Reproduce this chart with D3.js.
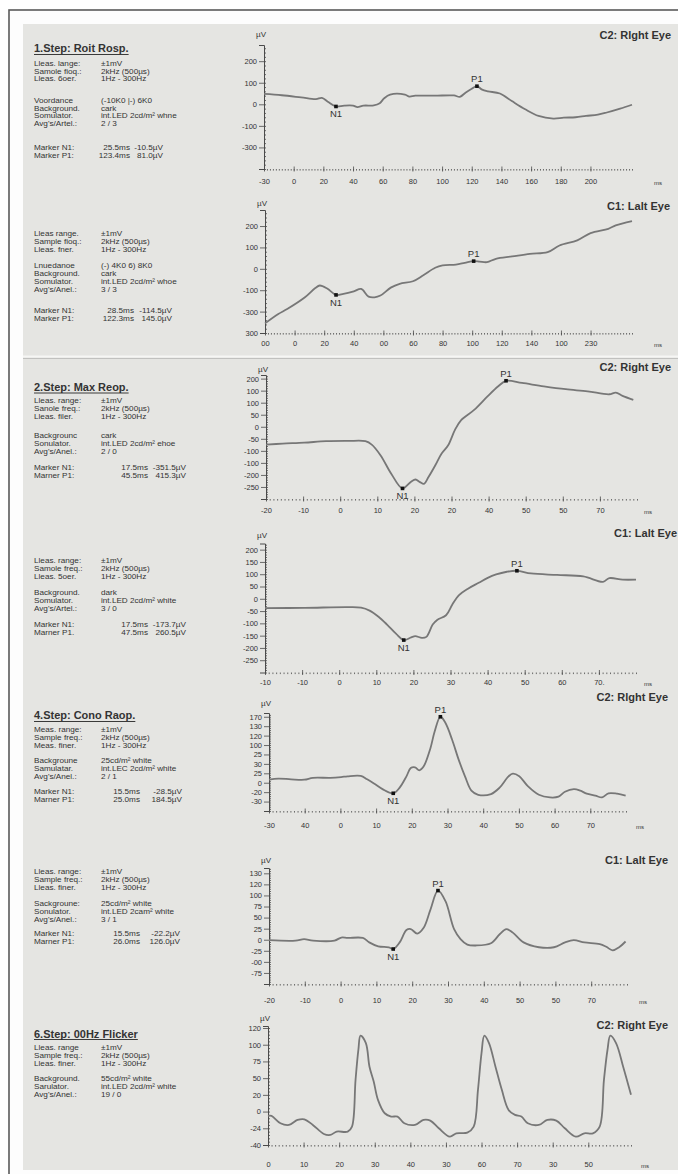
<!DOCTYPE html>
<html>
<head>
<meta charset="utf-8">
<script src="https://cdn.jsdelivr.net/npm/d3@7"></script>
<style>
  body { margin: 0; background: #fff; }
  svg { display: block; }
  text { font-family: "Liberation Sans", Arial, sans-serif; fill: #333; }
</style>
</head>
<body>
<script>
// ---------- data ----------

// 1. Step, rod response, right eye
var rodRightTime = [-20,-8,5,15,19,23,28.5,34,40,43,47,54,58,61,65,75,78,82,95,108,112,116,120,123.5,127,131,139,147,156,165,175,182,190,197,205,211,220,228];
var rodRightUv   = [48,42,32,24,30,12,-10,-6,-6,-13,-6,-5,5,28,45,45,36,40,40,41,35,55,72,84,68,60,50,15,-23,-54,-66,-62,-60,-54,-48,-38,-20,-2];
// 1. Step, rod response, left eye
var rodLeftTime = [-20,-11,-5,7,14,17,22,28,33,40,45,50,54,58,65,71,80,87,95,100,109,115,121,125,130,136,147,159,171,179,191,200,212,217,228];
var rodLeftUv   = [-255,-211,-188,-133,-90,-78,-92,-122,-117,-105,-94,-130,-133,-125,-88,-70,-58,-30,5,16,20,28,36,34,31,47,58,70,78,109,133,167,187,203,223];
// 2. Step, max response, right eye
var maxRightTime = [-20,-15.5,-9.7,-3.8,2.1,6.8,8.5,10.9,13.8,16.8,19.1,20.3,21.5,22.6,23.8,25.6,27.3,29.1,30.9,32.6,36.1,39.7,42.6,44.7,49,54.9,60.8,66.7,72.5,74.3,76.1,79];
var maxRightUv   = [-74,-70,-66,-60,-59,-60,-74,-119,-196,-256,-228,-219,-230,-237,-209,-161,-112,-77,-14,28,70,126,168,191,182,168,156,147,135,142,128,112];
// 2. Step, max response, left eye
var maxLeftTime = [-20,-9.4,2.3,5.9,8.2,10.6,12.9,15.3,17.4,19.4,20.5,22.3,23.5,25.2,26.4,28.8,30.5,32.3,34.6,37.6,39.9,42.3,45.2,47.9,51.7,58.7,65.8,71.1,72.8,76.4,80];
var maxLeftUv   = [-38,-37,-34,-36,-48,-73,-105,-142,-168,-157,-152,-159,-155,-105,-86,-67,-23,15,40,65,84,99,110,114,103,97,91,69,84,78,78];
// 4. Step, cone response, right eye
var coneRightTime = [-20,-17.4,-13.8,-10.1,-7.7,-2.8,0.2,2,5.7,7.5,9.4,11.8,14.8,16.6,18.5,19.7,20.9,22.1,23.3,25.2,26.4,28,29.4,31.3,33.1,34.9,36.7,38.6,42.2,44.6,47.1,48.3,50.1,52.5,55.6,58.7,61.1,62.9,65.4,67.2,69,71.4,73.3,75.1,77.5,79.9];
var coneRightUv   = [8,11,9,8,13,13,15,17,18,9,-2,-17,-28,-13,17,39,41,33,43,91,136,175,159,114,62,17,-21,-32,-30,-13,17,24,17,-9,-32,-39,-37,-24,-17,-21,-29,-34,-39,-28,-29,-34];
// 4. Step, cone response, left eye
var coneLeftTime = [-20,-12.6,-10.2,-7.7,-1.7,0.2,2,6.2,8,10.5,13.5,14.7,16.5,18.4,19.6,21.4,23.2,25.1,27.2,29.3,31.7,33.5,35.4,37.8,42,44.5,46.3,48.1,51.1,55.4,59.6,62.7,65.1,68.1,72.4,74.2,76,77.8,79.6];
var coneLeftUv   = [-1,-2,1.5,-2,-2,5,4,4,-6,-15,-17,-21,-6,22,24,14,27,68,111,87,24,1.5,-11,-13,-8,13,24,16,-6,-17,-17,-6,-1,-6,-10,-16,-24,-17,-4];
// 6. Step, 30Hz flicker, right eye
var flickerTime = [0,1,3.5,5.9,8.3,10.2,12.6,15.7,17.5,19.3,22.4,23.6,24.6,25.4,26,27.5,28.5,29.7,30.9,32.8,34.6,36.4,38.3,41.3,43.7,45.6,48,51.1,52.9,56,57.8,59,60,60.8,62.1,63.9,65.7,67.6,69.4,71.2,73,76.1,78.5,81,83.4,86.5,88.9,91.3,93.2,94.4,95.4,96.2,97.8,99.9,102];
var flickerUv   = [-6.5,-6.5,-17.5,-20,-12.5,-11.5,-20,-33.5,-35,-30,-30,-22.5,47.5,92.5,113.5,102.5,67.5,45,17.5,-2.5,-7.5,-7.5,-17.5,-20,-12.5,-13.5,-25,-37.5,-32.5,-31.5,-22.5,32.5,87.5,113.5,102.5,67.5,32.5,2.5,-5,-7.5,-17.5,-20,-12.5,-13.5,-25,-37.5,-32.5,-32.5,-22.5,47.5,92.5,113.5,102.5,65,25];

// marker points [name, ms, uV] where the N1 / P1 dots sit on the trace
var rodRightMarkers  = [["N1", 28.5, -10], ["P1", 123.5, 84]];
var rodLeftMarkers   = [["N1", 28, -122], ["P1", 121, 36]];
var maxRightMarkers  = [["N1", 16.8, -256], ["P1", 44.7, 191]];
var maxLeftMarkers   = [["N1", 17.4, -168], ["P1", 47.9, 114]];
var coneRightMarkers = [["N1", 14.8, -28], ["P1", 28, 175]];
var coneLeftMarkers  = [["N1", 14.7, -21], ["P1", 27.2, 111]];

// tick values and the labels printed at them
var rodTicksX = [-20,0,20,40,60,80,100,120,140,160,180,200];
var rodRightLabelsX = ["-30","0","20","40","60","80","100","120","140","160","180","200"];
var rodLeftLabelsX  = ["00","0","20","40","00","60","80","100","120","140","100","230"];
var rodRightTicksY = [200,100,0,-100,-200];
var rodRightLabelsY = ["200","100","0","-100","-300"];
var rodLeftTicksY = [200,100,0,-100,-200,-300];
var rodLeftLabelsY = ["200","100","0","-100","-300","300"];

var shortTicksX = [-20,-10,0,10,20,30,40,50,60,70];
var maxRightLabelsX  = ["-20","-10","0","10","20","20","40","50","50","70"];
var maxLeftLabelsX   = ["-10","-10","0","10","20","30","40","50","60","70."];
var coneRightLabelsX = ["-30","40","0","10","20","30","40","50","60","70"];
var coneLeftLabelsX  = ["-20","-10","0","10","20","30","40","50","50","70"];
var maxTicksY = [200,150,100,50,0,-50,-100,-150,-200,-250];
var maxRightLabelsY = ["200","100","100","50","0","-50","-100","-100","-200","-250"];
var maxLeftLabelsY  = ["200","150","100","50","0","-50","-100","-150","-200","-250"];
var coneRightTicksY = [175,150,125,100,75,50,25,0,-25,-50];
var coneRightLabelsY = ["170","130","120","100","25","30","25","0","-20","-30"];
var coneLeftTicksY = [150,125,100,75,50,25,0,-25,-50,-75];
var coneLeftLabelsY = ["130","120","100","75","50","25","0","-25","-00","-75"];

var flickerTicksX = [0,10,20,30,40,50,60,70,80,90];
var flickerLabelsX = ["0","10","20","30","40","30","60","70","30","50"];
var flickerTicksY = [125,100,75,50,25,0,-25,-50];
var flickerLabelsY = ["120","100","75","50","20","0","-24","-40"];

// recording settings printed at the left
var rodRightInfo = [["Lleas. lange:","±1mV"],["Samole fioq.:","2kHz (500µs)"],["Lleas. 6oer.","1Hz - 300Hz"],
  ["Voordance","(-10K0 |-) 6K0"],["Background.","cark"],["Somulator.","int.LED 2cd/m² whne"],["Avg's/Artel.:","2 / 3"],
  ["Marker N1:","25.5ms","-10.5µV"],["Marker P1:","123.4ms","81.0µV"]];
var rodLeftInfo = [["Lleas range.","±1mV"],["Sample fioq.:","2kHz (500µs)"],["Lleas. fner.","1Hz - 300Hz"],
  ["Lnuedanoe","(-) 4K0 6) 8K0"],["Background.","cark"],["Somulator.","int.LED 2cd/m² whoe"],["Avg's/Anel.:","3 / 3"],
  ["Marker N1:","28.5ms","-114.5µV"],["Marker P1:","122.3ms","145.0µV"]];
var maxRightInfo = [["Lleas. range:","±1mV"],["Sanole freq.:","2kHz (500µs)"],["Lleas. filer.","1Hz - 300Hz"],
  ["Backgrounc","cark"],["Sonulator.","int.LED 2cd/m² ehoe"],["Avg's/Anel.:","2 / 0"],
  ["Marker N1:","17.5ms","-351.5µV"],["Marner P1:","45.5ms","415.3µV"]];
var maxLeftInfo = [["Lleas. range:","±1mV"],["Samole freq.:","2kHz (500µs)"],["Lleas. 5oer.","1Hz - 300Hz"],
  ["Background.","dark"],["Somulator.","int.LED 2cd/m² white"],["Avg's/Artel.:","3 / 0"],
  ["Marker N1:","17.5ms","-173.7µV"],["Marner P1.","47.5ms","260.5µV"]];
var coneRightInfo = [["Meas. range:","±1mV"],["Sample freq.:","2kHz (500µs)"],["Meas. finer.","1Hz - 300Hz"],
  ["Backgroune","25cd/m² white"],["Samulatar.","int.LEC 2cd/m² white"],["Avg's/Anel.:","2 / 1"],
  ["Marker N1:","15.5ms","-28.5µV"],["Marner P1:","25.0ms","184.5µV"]];
var coneLeftInfo = [["Lleas. range:","±1mV"],["Sample freq.:","2kHz (500µs)"],["Lleas. finer.","1Hz - 300Hz"],
  ["Sackgroune:","25cd/m² white"],["Sonulator.","int.LED 2cam² white"],["Avg's/Anel.:","3 / 1"],
  ["Marker N1:","15.5ms","-22.2µV"],["Marner P1:","26.0ms","126.0µV"]];
var flickerInfo = [["Lleas. range","±1mV"],["Sample freq.:","2kHz (500µs)"],["Lleas. finer.","1Hz - 300Hz"],
  ["Background.","55cd/m² white"],["Sarulator.","int.LED 2cd/m² white"],["Avg's/Anel.:","19 / 0"]];

var stepTitles = ["1.Step: Roit Rosp.", "2.Step: Max Reop.", "4.Step: Cono Raop.", "6.Step: 00Hz Flicker"];
var eyeTitles = ["C2: Rlght Eye", "C1: Lalt Eye", "C2: Right Eye", "C1: Lalt Eye", "C2: Rlght Eye", "C1: Lalt Eye", "C2: Right Eye"];

// ---------- page ----------
var width = 678, height = 1174;
var svg = d3.select("body").append("svg").attr("width", width).attr("height", height);

// frame and paper
svg.append("rect").attr("x", 9).attr("y", 10).attr("width", 700).attr("height", 1200)
  .attr("fill", "#fdfdfd").attr("stroke", "#5a5a5a").attr("stroke-width", 1.6);
svg.append("rect").attr("x", 23).attr("y", 24).attr("width", 660).attr("height", 1146).attr("fill", "#e5e5e2");
svg.append("line").attr("x1", 23).attr("x2", 678).attr("y1", 356.5).attr("y2", 356.5)
  .attr("stroke", "#f6f6f4").attr("stroke-width", 2);
svg.append("line").attr("x1", 23).attr("x2", 678).attr("y1", 358.5).attr("y2", 358.5)
  .attr("stroke", "#b8b8b6").attr("stroke-width", 0.8);

var panels = [
  { t: rodRightTime, v: rodRightUv, marks: rodRightMarkers,
    xDomain: [-20, 228], xRange: [264, 632], yDomain: [-300, 275], yRange: [169, 45],
    xTicks: rodTicksX, xLabels: rodRightLabelsX, yTicks: rodRightTicksY, yLabels: rodRightLabelsY,
    xMinor: 2, yMinor: 20, xLabelGap: 13, msX: 658, eyeY: 35, eyeX: 671, unitY: 34,
    title: stepTitles[0], titleY: 49, info: rodRightInfo, valRight: [130, 163],
    infoY: [64,71.5,79, 101,108.5,116,123.5, 147.5,155.5] },
  { t: rodLeftTime, v: rodLeftUv, marks: rodLeftMarkers,
    xDomain: [-20, 228], xRange: [265, 632], yDomain: [-300, 275], yRange: [333, 210],
    xTicks: rodTicksX, xLabels: rodLeftLabelsX, yTicks: rodLeftTicksY, yLabels: rodLeftLabelsY,
    xMinor: 2, yMinor: 20, xLabelGap: 11, msX: 658, eyeY: 206, eyeX: 670, unitY: 203,
    info: rodLeftInfo, valRight: [134, 172],
    infoY: [234,242,250, 266,274,282,290, 311,319] },
  { t: maxRightTime, v: maxRightUv, marks: maxRightMarkers,
    xDomain: [-20, 80], xRange: [266, 637], yDomain: [-300, 215], yRange: [499, 375],
    xTicks: shortTicksX, xLabels: maxRightLabelsX, yTicks: maxTicksY, yLabels: maxRightLabelsY,
    xMinor: 1, yMinor: 10, xLabelGap: 12, msX: 648, eyeY: 367, eyeX: 671, unitY: 369,
    title: stepTitles[1], titleY: 387.5, info: maxRightInfo, valRight: [148, 186],
    infoY: [401,409,417, 436,444,452, 468,476] },
  { t: maxLeftTime, v: maxLeftUv, marks: maxLeftMarkers,
    xDomain: [-20, 80], xRange: [265, 636], yDomain: [-300, 225], yRange: [672.5, 543.5],
    xTicks: shortTicksX, xLabels: maxLeftLabelsX, yTicks: maxTicksY, yLabels: maxLeftLabelsY,
    xMinor: 1, yMinor: 10, xLabelGap: 11, msX: 648, eyeY: 533, eyeX: 677, unitY: 535,
    info: maxLeftInfo, valRight: [148, 186],
    infoY: [561,569,577, 593,601,609, 625,633] },
  { t: coneRightTime, v: coneRightUv, marks: coneRightMarkers,
    xDomain: [-20, 80], xRange: [269, 626], yDomain: [-75, 185], yRange: [811, 713],
    xTicks: shortTicksX, xLabels: coneRightLabelsX, yTicks: coneRightTicksY, yLabels: coneRightLabelsY,
    xMinor: 1, yMinor: 5, xLabelGap: 15, msX: 640, eyeY: 697, eyeX: 668, unitY: 703,
    title: stepTitles[2], titleY: 716, info: coneRightInfo, valRight: [140, 182],
    infoY: [730,738,746, 761,769,777, 792,800] },
  { t: coneLeftTime, v: coneLeftUv, marks: coneLeftMarkers,
    xDomain: [-20, 80], xRange: [269, 627], yDomain: [-100, 162], yRange: [984, 868],
    xTicks: shortTicksX, xLabels: coneLeftLabelsX, yTicks: coneLeftTicksY, yLabels: coneLeftLabelsY,
    xMinor: 1, yMinor: 5, xLabelGap: 17, msX: 643, eyeY: 860, eyeX: 668, unitY: 860,
    info: coneLeftInfo, valRight: [140, 180],
    infoY: [872,880,888, 904,912,920, 934,942] },
  { t: flickerTime, v: flickerUv, marks: [],
    xDomain: [0, 102], xRange: [268, 631], yDomain: [-50, 128], yRange: [1145, 1026],
    xTicks: flickerTicksX, xLabels: flickerLabelsX, yTicks: flickerTicksY, yLabels: flickerLabelsY,
    xMinor: 1, yMinor: 5, xLabelGap: 20, msX: 645, eyeY: 1025, eyeX: 668, unitY: 1018,
    title: stepTitles[3], titleY: 1034, info: flickerInfo, valRight: [0, 0],
    infoY: [1048,1056,1064, 1079,1087,1095] }
];

function styleAxis(g) {
  g.attr("font-family", null).attr("font-size", null);
  g.selectAll("line").attr("stroke", "#4a4a4a").attr("stroke-width", 0.8);
  g.selectAll("text").attr("fill", "#3a3a3a").style("font-size", "7.5px");
}

// the printout's left column is set in a wide, short face: stretch it sideways a little
var STRETCH = 1.15, LEFT = 34;
function sx(px) { return (px - LEFT) / STRETCH; }

panels.forEach(function(p, k) {
  var x = d3.scaleLinear().domain(p.xDomain).range(p.xRange);
  var y = d3.scaleLinear().domain(p.yDomain).range(p.yRange);
  var g = svg.append("g");
  var x0 = p.xRange[0], yBase = p.yRange[0];

  // y axis: major ticks left with printed labels, minor ticks right
  var yMinors = d3.range(p.yDomain[0], p.yDomain[1], p.yMinor);
  g.append("g").attr("transform", "translate(" + x0 + ",0)")
    .call(d3.axisRight(y).tickValues(yMinors).tickSize(2).tickFormat(""))
    .call(function(a) { a.select(".domain").remove(); })
    .call(styleAxis);
  g.append("g").attr("transform", "translate(" + x0 + ",0)")
    .call(d3.axisLeft(y).tickValues(p.yTicks).tickSize(5).tickPadding(2)
      .tickFormat(function(d, i) { return p.yLabels[i]; }))
    .call(function(a) { a.select(".domain").attr("stroke", "#4a4a4a").attr("stroke-width", 1); })
    .call(styleAxis);

  // x axis: a dotted run of small ticks with bigger ones at the labels
  var xMinors = d3.range(p.xDomain[0], p.xDomain[1] + 0.001, p.xMinor);
  g.append("g").attr("transform", "translate(0," + yBase + ")")
    .call(d3.axisBottom(x).tickValues(xMinors).tickSize(1.6).tickFormat(""))
    .call(function(a) { a.select(".domain").remove(); })
    .call(styleAxis);
  g.append("g").attr("transform", "translate(0," + (yBase - 2.5) + ")")
    .call(d3.axisBottom(x).tickValues(p.xTicks).tickSize(5).tickPadding(p.xLabelGap - 6)
      .tickFormat(function(d, i) { return p.xLabels[i]; }))
    .call(function(a) { a.select(".domain").remove(); })
    .call(styleAxis);

  g.append("text").attr("x", p.msX).attr("y", yBase + p.xLabelGap + 2.5)
    .attr("text-anchor", "middle").style("font-size", "6px").attr("fill", "#444").text("ms");
  g.append("text").attr("x", x0 - 3).attr("y", p.unitY + 3)
    .attr("text-anchor", "middle").style("font-size", "8px").attr("fill", "#444").text("µV");
  g.append("text").attr("x", p.eyeX).attr("y", p.eyeY + 4)
    .attr("text-anchor", "end").style("font-size", "11px").style("font-weight", "bold")
    .attr("fill", "#2a2a2a").text(eyeTitles[k]);

  // trace
  var line = d3.line().x(function(d) { return x(d[0]); }).y(function(d) { return y(d[1]); })
    .curve(d3.curveCatmullRom.alpha(0.5));
  g.append("path").datum(d3.zip(p.t, p.v)).attr("d", line)
    .attr("fill", "none").attr("stroke", "#777").attr("stroke-width", 1.8)
    .attr("stroke-linejoin", "round");

  // N1 / P1 markers
  p.marks.forEach(function(m) {
    var mx = x(m[1]), my = y(m[2]);
    g.append("rect").attr("x", mx - 1.8).attr("y", my - 1.8).attr("width", 3.6).attr("height", 3.6).attr("fill", "#111");
    g.append("text").attr("x", mx).attr("y", m[0] === "N1" ? my + 11 : my - 4)
      .attr("text-anchor", "middle").style("font-size", "9.5px").attr("fill", "#222").text(m[0]);
  });

  // left column
  var left = svg.append("g").attr("transform", "translate(" + LEFT + ",0) scale(" + STRETCH + ",1)");
  if (p.title) {
    var tt = svg.append("g").attr("transform", "translate(" + LEFT + ",0) scale(1.1,1)")
      .append("text").attr("x", 0).attr("y", p.titleY + 3.5)
      .style("font-size", "10px").style("font-weight", "bold").attr("fill", "#262626").text(p.title);
    var w = tt.node().getComputedTextLength() * 1.1;
    svg.append("line").attr("x1", LEFT).attr("x2", LEFT + w).attr("y1", p.titleY + 5.5).attr("y2", p.titleY + 5.5)
      .attr("stroke", "#262626").attr("stroke-width", 0.9);
  }
  p.info.forEach(function(row, i) {
    var ty = p.infoY[i] + 2.5;
    left.append("text").attr("x", 0).attr("y", ty).style("font-size", "7.1px").attr("fill", "#333").text(row[0]);
    if (row.length === 2) {
      left.append("text").attr("x", sx(101)).attr("y", ty).style("font-size", "7.1px").attr("fill", "#333").text(row[1]);
    } else {
      left.append("text").attr("x", sx(p.valRight[0])).attr("y", ty).attr("text-anchor", "end")
        .style("font-size", "7.1px").attr("fill", "#333").text(row[1]);
      left.append("text").attr("x", sx(p.valRight[1])).attr("y", ty).attr("text-anchor", "end")
        .style("font-size", "7.1px").attr("fill", "#333").text(row[2]);
    }
  });
});
</script>
</body>
</html>
